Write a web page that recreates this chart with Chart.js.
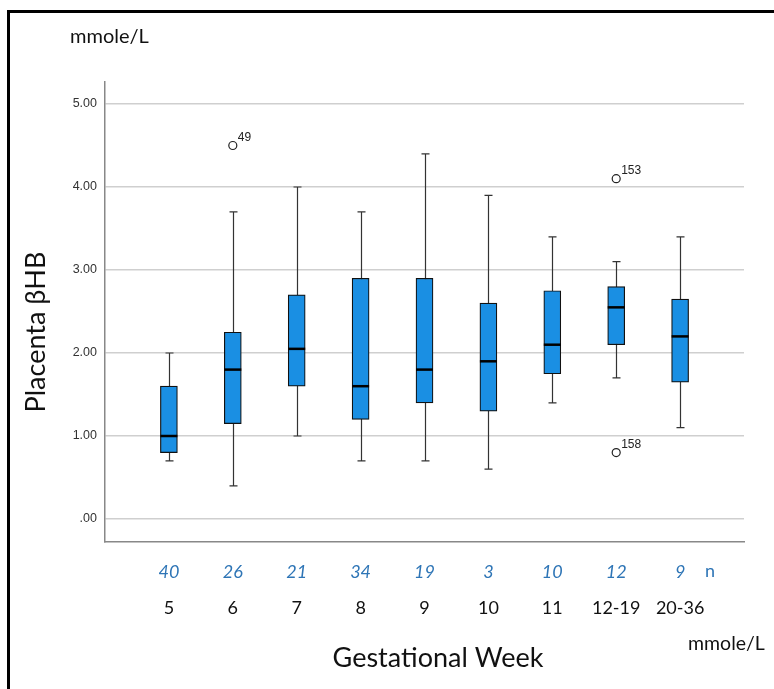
<!DOCTYPE html>
<html>
<head>
<meta charset="utf-8">
<script src="https://cdn.jsdelivr.net/npm/chart.js@4"></script>
<style>
  html, body { margin: 0; padding: 0; background: #fff; }
  #wrap { position: relative; width: 774px; height: 689px; overflow: hidden; }
  #frame { position: absolute; left: 7px; top: 10px; right: -10px; bottom: -10px; border-left: 3px solid #000; border-top: 3px solid #000; }
  canvas { position: absolute; left: 0; top: 0; }
</style>
</head>
<body>
<div id="wrap">
  <div id="frame"></div>
  <canvas id="chart" width="774" height="689"></canvas>
</div>
<script>
// Box plot data per gestational week group (mmole/L)
const weeks = ['5', '6', '7', '8', '9', '10', '11', '12-19', '20-36'];
const counts = [40, 26, 21, 34, 19, 3, 10, 12, 9];
const whiskerLow = [0.7, 0.4, 1.0, 0.7, 0.7, 0.6, 1.4, 1.7, 1.1];
const q1 = [0.8, 1.15, 1.6, 1.2, 1.4, 1.3, 1.75, 2.1, 1.65];
const median = [1.0, 1.8, 2.05, 1.6, 1.8, 1.9, 2.1, 2.55, 2.2];
const q3 = [1.6, 2.25, 2.7, 2.9, 2.9, 2.6, 2.75, 2.8, 2.65];
const whiskerHigh = [2.0, 3.7, 4.0, 3.7, 4.4, 3.9, 3.4, 3.1, 3.4];

// Outliers: group index, value, case label
const outlierGroup = [1, 7, 7];
const outlierValue = [4.5, 4.1, 0.8];
const outlierCase = ['49', '153', '158'];

const yTicks = [0, 1, 2, 3, 4, 5];

const BOX_COLOR = '#1a8fe3';
const CALIBRI = 'Lato, "Open Sans", sans-serif';

// Whiskers, medians, outlier labels and free text
const boxParts = {
  id: 'boxParts',
  beforeDatasetsDraw(chart) {
    const { ctx, scales: { x, y } } = chart;
    ctx.save();
    ctx.strokeStyle = '#333';
    ctx.lineWidth = 1.2;
    weeks.forEach((w, i) => {
      const px = Math.round(x.getPixelForValue(i + 1)) + 0.5;
      const top = y.getPixelForValue(whiskerHigh[i]);
      const bot = y.getPixelForValue(whiskerLow[i]);
      ctx.beginPath();
      ctx.moveTo(px, top);
      ctx.lineTo(px, bot);
      ctx.moveTo(px - 4, top);
      ctx.lineTo(px + 4, top);
      ctx.moveTo(px - 4, bot);
      ctx.lineTo(px + 4, bot);
      ctx.stroke();
    });
    ctx.restore();
  },
  afterDatasetsDraw(chart) {
    const { ctx, scales: { x, y } } = chart;
    ctx.save();
    ctx.strokeStyle = '#000';
    ctx.lineWidth = 2.5;
    weeks.forEach((w, i) => {
      const px = x.getPixelForValue(i + 1);
      const py = y.getPixelForValue(median[i]);
      ctx.beginPath();
      ctx.moveTo(px - 8.5, py);
      ctx.lineTo(px + 8.5, py);
      ctx.stroke();
    });
    ctx.fillStyle = '#222';
    ctx.font = '12px "Liberation Sans", Arial, sans-serif';
    ctx.textBaseline = 'bottom';
    outlierCase.forEach((c, i) => {
      const px = x.getPixelForValue(outlierGroup[i] + 1);
      const py = y.getPixelForValue(outlierValue[i]);
      ctx.fillText(c, px + 5, py - 2);
    });
    ctx.restore();
  },
  afterDraw(chart) {
    const { ctx, scales: { x } } = chart;
    ctx.save();
    ctx.fillStyle = '#111';
    ctx.textBaseline = 'alphabetic';
    ctx.textAlign = 'left';
    ctx.font = '20px ' + CALIBRI;
    ctx.fillText('mmole/L', 70, 43);
    ctx.font = '19.5px ' + CALIBRI;
    ctx.fillText('mmole/L', 688, 650);
    ctx.font = '27px ' + CALIBRI;
    ctx.textAlign = 'center';
    ctx.fillText('Gestational Week', 438, 667);
    // y title
    ctx.save();
    ctx.translate(45, 332);
    ctx.rotate(-Math.PI / 2);
    ctx.font = '27px ' + CALIBRI;
    ctx.fillText('Placenta \u03B2HB', 0, 0);
    ctx.restore();
    // "n" marker at end of the counts row
    ctx.fillStyle = '#2e75b6';
    ctx.font = '18px ' + CALIBRI;
    ctx.textBaseline = 'middle';
    ctx.textAlign = 'center';
    ctx.fillText('n', x.getPixelForValue(9) + 30, 571);
    ctx.restore();
  }
};

new Chart(document.getElementById('chart'), {
  type: 'bar',
  data: {
    datasets: [
      {
        type: 'bar',
        data: weeks.map((w, i) => ({ x: i + 1, y: [q1[i], q3[i]] })),
        backgroundColor: BOX_COLOR,
        borderColor: '#111',
        borderWidth: 1.2,
        borderSkipped: false,
        barThickness: 17,
        order: 2
      },
      {
        type: 'scatter',
        data: outlierGroup.map((g, i) => ({ x: g + 1, y: outlierValue[i] })),
        pointRadius: 4,
        pointBackgroundColor: '#fff',
        pointBorderColor: '#222',
        pointBorderWidth: 1.2,
        order: 1
      }
    ]
  },
  options: {
    responsive: false,
    animation: false,
    layout: { padding: { top: 82, right: 30, left: 0, bottom: 64 } },
    plugins: { legend: { display: false }, tooltip: { enabled: false } },
    scales: {
      x: {
        type: 'linear',
        position: 'bottom',
        offset: false,
        min: 0,
        max: 10,
        grid: { display: false, drawTicks: false },
        border: { color: '#888', width: 1.5 },
        afterBuildTicks: s => { s.ticks = weeks.map((w, i) => ({ value: i + 1 })); },
        afterFit: s => { s.height = 48; },
        ticks: {
          autoSkip: false,
          maxRotation: 0,
          padding: 19,
          color: '#2e75b6',
          font: { family: CALIBRI, style: 'italic', size: 18 },
          callback: v => counts[v - 1]
        }
      },
      x2: {
        type: 'linear',
        position: 'bottom',
        offset: false,
        min: 0,
        max: 10,
        grid: { display: false, drawTicks: false },
        border: { display: false },
        afterBuildTicks: s => { s.ticks = weeks.map((w, i) => ({ value: i + 1 })); },
        afterFit: s => { s.height = 35; },
        ticks: {
          autoSkip: false,
          maxRotation: 0,
          padding: 7,
          color: '#111',
          font: { family: CALIBRI, size: 18 },
          callback: v => weeks[v - 1]
        }
      },
      y: {
        min: -0.277,
        max: 5.265,
        afterBuildTicks: s => { s.ticks = yTicks.map(v => ({ value: v })); },
        afterFit: s => { s.width = 105; },
        grid: { color: '#cfcfcf', lineWidth: 1.5, drawTicks: false },
        border: { color: '#888', width: 1.5 },
        ticks: {
          padding: 8,
          color: '#333',
          font: { family: '"Liberation Sans", Arial, sans-serif', size: 12.5 },
          callback: v => (v === 0 ? '.00' : v.toFixed(2))
        }
      }
    }
  },
  plugins: [boxParts]
});
</script>
</body>
</html>
